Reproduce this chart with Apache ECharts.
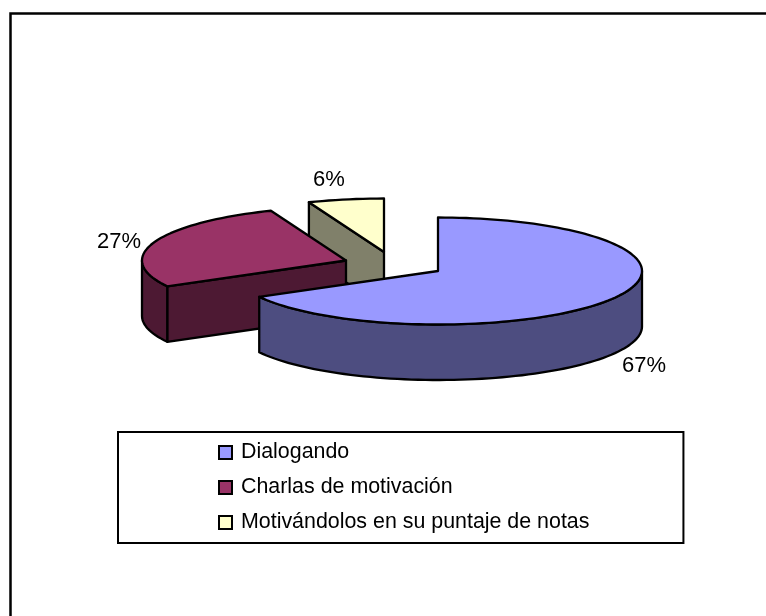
<!DOCTYPE html>
<html>
<head>
<meta charset="utf-8">
<script src="https://cdn.jsdelivr.net/npm/echarts@6/dist/echarts.min.js"></script>
<style>
  html, body { margin: 0; padding: 0; background: #fff; }
  #main { width: 766px; height: 616px; }
</style>
</head>
<body>
<div id="main"></div>
<script>
const categories = ['Dialogando', 'Charlas de motivación', 'Motivándolos en su puntaje de notas']
const percentages = [67, 27, 6]

const topColors = ['#9999ff', '#993366', '#ffffcc']
const sideColors = ['#4d4d80', '#4d1933', '#80806a']

// where each exploded slice sits, and where its label goes
const centres = [[438, 271], [346, 260.5], [384, 252]]
const labelSpots = [[644, 366], [119, 242], [329, 180]]
const RX = 204
const RY = 53.5
const DEPTH = 55.5
const FONT = '"Liberation Sans", Arial, sans-serif'

const total = percentages.reduce((a, b) => a + b, 0)
const startAngles = percentages.map((v, i) =>
  percentages.slice(0, i).reduce((a, b) => a + b, 0) / total * 360)

function rimPoint(c, deg, drop) {
  const r = deg * Math.PI / 180
  return [c[0] + RX * Math.sin(r), c[1] - RY * Math.cos(r) + (drop || 0)]
}

function arcPoints(c, from, to, drop) {
  const pts = []
  const n = Math.max(2, Math.ceil((to - from) / 2))
  for (let i = 0; i <= n; i++) pts.push(rimPoint(c, from + (to - from) * i / n, drop))
  return pts
}

function face(points, fill) {
  return {
    type: 'polygon',
    shape: { points: points },
    style: { fill: fill, stroke: '#000', lineWidth: 2.3, lineJoin: 'round' }
  }
}

function renderSlice(i) {
  return function (params, api) {
    const value = api.value(0)
    const c = centres[i]
    const from = startAngles[i]
    const to = from + value / total * 360
    const low = [c[0], c[1] + DEPTH]
    const children = []

    // cut faces that turn towards the viewer
    if (Math.sin(from * Math.PI / 180) < -0.001) {
      children.push(face([c, rimPoint(c, from), rimPoint(c, from, DEPTH), low], sideColors[i]))
    }
    if (Math.sin(to * Math.PI / 180) > 0.001) {
      children.push(face([c, rimPoint(c, to), rimPoint(c, to, DEPTH), low], sideColors[i]))
    }
    // outer wall, front half only
    const a = Math.max(from, 90)
    const b = Math.min(to, 270)
    if (b > a) {
      children.push(face(arcPoints(c, a, b, 0).concat(arcPoints(c, a, b, DEPTH).reverse()), sideColors[i]))
    }
    // top
    children.push(face([c].concat(arcPoints(c, from, to, 0)), topColors[i]))
    // label
    children.push({
      type: 'text',
      style: {
        text: value + '%',
        x: labelSpots[i][0],
        y: labelSpots[i][1],
        fill: '#000',
        font: '22px ' + FONT,
        textAlign: 'center',
        textVerticalAlign: 'middle'
      }
    })
    return { type: 'group', children: children }
  }
}

const chart = echarts.init(document.getElementById('main'), null, { renderer: 'canvas' })

chart.setOption({
  backgroundColor: '#fff',
  animation: false,
  tooltip: { show: false },
  legend: {
    data: categories,
    orient: 'vertical',
    left: 118,
    top: 432,
    padding: [10, 94, 10, 100],
    backgroundColor: '#fff',
    borderColor: '#000',
    borderWidth: 2,
    borderRadius: 0,
    itemWidth: 13,
    itemHeight: 13,
    itemGap: 14,
    selectedMode: false,
    icon: 'rect',
    itemStyle: { borderColor: '#000', borderWidth: 2 },
    textStyle: { color: '#000', fontSize: 21.4, fontFamily: FONT, padding: [0, 0, 0, 4] }
  },
  graphic: [{
    type: 'polyline',
    shape: { points: [[10.5, 616], [10.5, 13.5], [766, 13.5]] },
    style: { stroke: '#000', lineWidth: 2.5, fill: null }
  }],
  series: categories.map((name, i) => ({
    type: 'custom',
    name: name,
    coordinateSystem: 'none',
    z: categories.length - i,
    itemStyle: { color: topColors[i] },
    renderItem: renderSlice(i),
    data: [[percentages[i]]]
  }))
})
</script>
</body>
</html>
